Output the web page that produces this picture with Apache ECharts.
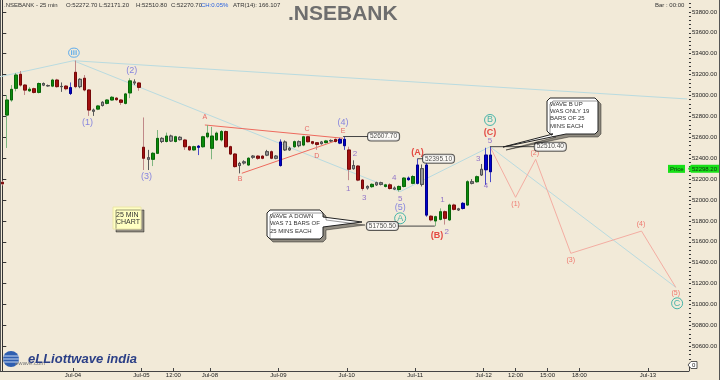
<!DOCTYPE html>
<html><head><meta charset="utf-8">
<script src="https://cdn.jsdelivr.net/npm/echarts@6/dist/echarts.min.js"></script>
<style>html,body{margin:0;padding:0;background:#f2ead8;}#c{width:720px;height:380px;}</style>
</head><body><div id="c"></div>
<script>
// ---------- data ----------
const TOTAL_SLOTS = 151;
const dateTickIndex = [16,31,38,46,61,76,91,106,113,120,127,142];
const dateTickLabel = ['Jul-04','Jul-05','12:00','Jul-08','Jul-09','Jul-10','Jul-11','Jul-12','12:00','15:00','18:00','Jul-13'];
const priceTicks = [50600,50800,51000,51200,51400,51600,51800,52000,52200,52400,52600,52800,53000,53200,53400,53600,53800];

const candleOpen = [52170,52813,52957,53069,53203,53100,53045,53065,53030,53115,53095,53090,53148,53085,53090,53075,
53222,53085,53165,53053,52861,52870,52905,52925,52957,52975,52957,52925,53025,53130,53120,
52505,52405,52390,52447,52590,52560,52612,52560,52600,52574,52510,52480,52515,52510,52605,
52495,52575,52575,52655,52510,52440,52330,52355,52335,52410,52420,52420,52430,52462,52400,
52330,52555,52480,52510,52558,52526,52605,52558,52548,52540,52550,52565,52580,52545,52580,
52479,52300,52325,52191,52115,52128,52145,52165,52130,52145,52115,52100,52130,52210,52160,
52160,52300,52335,51845,51800,51815,51888,51810,51952,51915,51920,51952,52175,52175,52240,
52290,52430];
const candleClose = [52155,52957,53059,53196,53100,53052,53060,53030,53115,53100,53093,53148,53085,53087,53065,53020,
53085,53155,53053,52861,52850,52900,52935,52957,52983,52960,52935,53015,53140,53120,53078,
52400,52390,52447,52590,52560,52612,52565,52605,52578,52510,52480,52510,52505,52605,52640,
52612,52640,52655,52510,52440,52320,52350,52365,52400,52420,52400,52400,52462,52400,52420,
52555,52480,52495,52558,52520,52605,52558,52543,52532,52555,52565,52570,52560,52580,52520,
52295,52330,52191,52110,52130,52150,52165,52150,52145,52110,52105,52130,52210,52195,52225,
52335,52150,51856,51810,51840,51888,51825,51952,51911,51905,51968,52175,52160,52223,52294,
52430,52271];
const candleLow = [52140,52498,52940,53040,53085,53005,53035,53020,53020,53090,53085,53080,53075,53035,53050,53005,
53070,53070,53040,52805,52805,52860,52895,52915,52950,52950,52910,52915,52975,53100,53045,
52287,52287,52325,52440,52545,52550,52555,52550,52570,52480,52470,52470,52430,52500,52590,
52390,52565,52560,52500,52430,52310,52255,52340,52325,52395,52385,52390,52420,52390,52390,
52320,52470,52470,52500,52505,52515,52550,52530,52480,52530,52540,52555,52550,52535,52480,
52190,52290,52180,52090,52100,52115,52135,52140,52120,52100,52095,52080,52120,52185,52150,
52150,52130,51840,51795,51750,51805,51765,51800,51900,51895,51910,51945,52150,52165,52230,
52144,52171];
const candleHigh = [52185,53005,53100,53216,53235,53110,53080,53075,53125,53125,53105,53160,53160,53125,53100,53125,
53335,53165,53196,53060,52875,52910,52945,52965,52995,52985,52965,53025,53165,53155,53130,
52790,52480,52460,52670,52600,52645,52625,52615,52610,52585,52520,52520,52526,52615,52718,
52700,52655,52670,52665,52520,52450,52365,52380,52410,52430,52430,52430,52480,52475,52430,
52580,52570,52510,52570,52570,52615,52615,52565,52555,52565,52575,52580,52590,52595,52608,
52510,52380,52335,52200,52140,52160,52175,52175,52155,52160,52130,52140,52220,52225,52240,
52395,52340,52360,51855,51850,51920,51900,51965,51965,51925,51980,52190,52200,52235,52345,
52500,52511];
// g = up (green), r = down (red), n = neutral (grey), b = highlighted (blue)
const candleKind = ('rgggrrgrgnngrnrb' + 'rnrrngnggrrggnr' + 'rnggngngnrrgbggg' + 'ggrrrnngnrrnrn' +
  'bnngngrrrngnrbb' + 'rnrrngnngrnggbg' + 'bnbrggrgrnbgngn' + 'bb').split('');

const degreeIiiLabel = [[15.7,53410,'iii']];
const minorWaveLabels = [[18.7,52744,'(1)'],[28.4,53237,'(2)'],[31.6,52223,'(3)'],[74.7,52740,'(4)'],[87.2,51930,'(5)']];
const circledLabels = [[87.2,51825,'A'],[106.9,52766,'B'],[147.9,51012,'C']];
const intermediateLabels = [[91.0,52453,'(A)'],[95.3,51665,'(B)'],[106.9,52644,'(C)']];
const triangleLabels = [[44.4,52794,'A'],[52.1,52198,'B'],[66.8,52677,'C'],[68.9,52421,'D'],[74.7,52660,'E']];
const subwaveLabels = [[75.8,52112,'1'],[77.3,52447,'2'],[79.3,52026,'3'],[85.9,52208,'4'],[87.2,52016,'5'],
  [96.5,52000,'1'],[97.4,51697,'2'],[104.3,52399,'3'],[106.0,52134,'4'],[106.9,52568,'5']];
const projectionLabels = [[112.5,51959,'(1)'],[116.7,52453,'(2)'],[124.6,51426,'(3)'],[140.0,51768,'(4)'],[147.6,51107,'(5)']];

const trendFromLeft = [[-0.5,53180],[15.6,53333]];
const primaryPath = [[15.6,53333],[87.2,52080],[106.9,52510],[147.6,51165]];
const longTrend = [[15.6,53333],[150.1,52967]];
const triangleUpper = [[44.4,52718],[74.7,52591]];
const triangleLower = [[52.5,52256],[73.6,52574]];
const projectionPath = [[106.9,52510],[112.5,52026],[116.9,52390],[124.6,51490],[140.1,51703],[147.6,51165]];

const priceTags = [[80.15,52607.7,'52607.70'],[92.2,52395.1,'52395.10'],[79.9,51750.5,'51750.50'],[116.7,52510.4,'52510.40']];
const tagLeaders = [[[74.7,52607.7],[80.15,52607.7]],[[91,52395.1],[92.2,52395.1]],[[86.1,51750.5],[94.8,51750.5]],[[106.9,52510.4],[116.7,52510.4]]];
const lastPrice = 52298.20;

// ---------- chart ----------
const FONT = 'Liberation Sans, Arial, sans-serif';
const chart = echarts.init(document.getElementById('c'), null, {renderer:'canvas', width:720, height:380});
const cats = Array.from({length: TOTAL_SLOTS}, (_, i) => String(i));
const tickMap = {}; dateTickIndex.forEach((k, j) => tickMap[k] = dateTickLabel[j]);
const KIND = {
  g: {fill:'#0b8a0b', edge:'#086408', wick:'#7fb57f'},
  r: {fill:'#a21010', edge:'#760808', wick:'#c08888'},
  n: {fill:'#9a9a9a', edge:'#505050', wick:'#5a5a5a'},
  b: {fill:'#0000cc', edge:'#000088', wick:'#4a4ac8'}
};
function style4(c, b) { return {color:c, color0:c, borderColor:b, borderColor0:b}; }
const wickData = candleOpen.map((o, i) => { const k = KIND[candleKind[i]] || KIND.n;
  return {value:[o, candleClose[i], candleLow[i], candleHigh[i]], itemStyle: style4(k.fill, k.wick)}; });
const bodyData = candleOpen.map((o, i) => { const k = KIND[candleKind[i]] || KIND.n; const c = candleClose[i];
  return {value:[o, c, Math.min(o, c), Math.max(o, c)], itemStyle: style4(k.fill, k.edge)}; });

function labelSeries(points, lab) {
  return {type:'scatter', xAxisIndex:1, symbolSize:0, silent:true, z:6, animation:false,
    data: points.map(p => ({value:[p[0], p[1]], name:p[2]})),
    label: Object.assign({show:true, position:'inside', formatter:'{b}', fontFamily:FONT}, lab)};
}
function lineSeries(pts, color, width, z) {
  return {type:'line', xAxisIndex:1, data:pts, symbol:'none', silent:true, animation:false, z:z || 3,
    lineStyle:{color:color, width:width}};
}

const series = [
  lineSeries(trendFromLeft, '#b9dbe0', 1),
  lineSeries(primaryPath, '#b9dbe0', 1),
  lineSeries(longTrend, '#b9dbe0', 1),
  lineSeries(triangleUpper, '#ee6a5e', 1),
  lineSeries(triangleLower, '#ee6a5e', 1),
  lineSeries(projectionPath, '#f4ada2', 1),
  {type:'candlestick', xAxisIndex:0, data:wickData, barWidth:3, animation:false, z:4},
  {type:'candlestick', xAxisIndex:0, data:bodyData, barWidth:3, animation:false, z:5}
];
tagLeaders.forEach(l => series.push(lineSeries(l, '#444', 1, 5)));
series.push(labelSeries(degreeIiiLabel, {color:'#3a9cf0', fontSize:8, fontWeight:'bold', borderColor:'#3a9cf0', borderWidth:1, borderRadius:6, padding:[1,2,0,2]}));
series.push(labelSeries(minorWaveLabels, {color:'#6a6ae0', fontSize:9}));
series.push(labelSeries(circledLabels, {color:'#1fa89c', fontSize:9, borderColor:'#1fa89c', borderWidth:1, borderRadius:7, width:11, height:11, lineHeight:12, align:'center'}));
series.push(labelSeries(intermediateLabels, {color:'#e0201c', fontSize:9, fontWeight:'bold'}));
series.push(labelSeries(triangleLabels, {color:'#e54a4a', fontSize:7}));
series.push(labelSeries(subwaveLabels, {color:'#7a58c4', fontSize:8}));
series.push(labelSeries(projectionLabels, {color:'#ef5a52', fontSize:7}));
series.push({type:'scatter', xAxisIndex:1, symbolSize:0, silent:true, z:7, animation:false,
  data: priceTags.map(p => ({value:[p[0], p[1]], name:p[2]})),
  label:{show:true, position:[0,0], align:'left', verticalAlign:'middle', formatter:'{b}', fontFamily:FONT,
    fontSize:6.5, color:'#222', backgroundColor:'#ffffff', borderColor:'#333', borderWidth:1, borderRadius:3, padding:[1,2,0,2]}});

const option = {
  backgroundColor:'#f2ead8',
  animation:false,
  grid:{left:0, right:31, top:0, bottom:9},
  xAxis:[
    {type:'category', data:cats, boundaryGap:true,
      axisLine:{show:true, lineStyle:{color:'#444', width:1}},
      axisTick:{show:true, inside:true, length:3, interval:(i) => tickMap[i] !== undefined, lineStyle:{color:'#444'}},
      axisLabel:{show:true, interval:(i) => tickMap[i] !== undefined, formatter:(v, i) => tickMap[i] || '',
        fontSize:6, color:'#222', margin:1, fontFamily:FONT, padding:[0,4.6,0,0]},
      splitLine:{show:false}},
    {type:'value', min:-0.5, max:TOTAL_SLOTS - 0.5, show:false}
  ],
  yAxis:[
    {type:'value', position:'right', min:50364, max:53914, scale:true,
      axisLine:{show:true, lineStyle:{color:'#333'}},
      axisTick:{show:true, length:4, customValues:priceTicks, lineStyle:{color:'#333'}},
      axisLabel:{show:true, customValues:priceTicks, formatter:(v) => v.toFixed(2), fontSize:6, color:'#222', margin:3, fontFamily:FONT},
      splitLine:{show:false}},
    {type:'value', position:'right', min:50364, max:53914,
      axisLine:{show:false}, axisLabel:{show:false}, splitLine:{show:false},
      axisTick:{show:true, length:2, customValues:Array.from({length:89}, (_, i) => 50400 + i * 40), lineStyle:{color:'#333'}}}
  ],
  series: series
};
chart.setOption(option);

const py = chart.convertToPixel({yAxisIndex:0}, lastPrice);
const t = (x, y, text, size, fill, extra) => ({type:'text', x:x, y:y, silent:true, z:20,
  style:Object.assign({text:text, fontSize:size, fontFamily:FONT, fill:fill, verticalAlign:'middle'}, extra || {})});
const shadowed = {shadowColor:'rgba(0,0,0,0.4)', shadowOffsetX:3, shadowOffsetY:3};
chart.setOption({graphic:[
  {type:'line', shape:{x1:0.5, y1:0, x2:0.5, y2:371}, style:{stroke:'#555', lineWidth:1}, silent:true},
  {type:'line', shape:{x1:719.5, y1:0, x2:719.5, y2:380}, style:{stroke:'#555', lineWidth:1}, silent:true},
  t(4, 5.5, '.NSEBANK - 25 min', 6, '#333'),
  t(66, 5.5, 'O:52272.70', 6, '#333'),
  t(99, 5.5, 'L:52171.20', 6, '#333'),
  t(136, 5.5, 'H:52510.80', 6, '#333'),
  t(171, 5.5, 'C:52270.70', 6, '#333'),
  t(201, 5.5, 'CH:0.05%', 6, '#2a62e0'),
  t(233, 5.5, 'ATR(14): 166.107', 6, '#333'),
  t(655, 5.5, 'Bar : 00:00', 6, '#333'),
  t(288, 14.5, '.NSEBANK', 21, '#6e6e6e', {fontWeight:'bold'}),
  // 25 MIN CHART note
  {type:'rect', shape:{x:113, y:207, width:28, height:22}, style:Object.assign({fill:'#ffffc2', stroke:'#ece6a8', lineWidth:1}, shadowed), z:20, silent:true},
  {type:'text', x:116, y:211, z:21, silent:true, style:{text:'25 MIN\nCHART', fontSize:7, lineHeight:7.5, fontFamily:FONT, fill:'#333'}},
  // Wave A bubble
  {type:'polygon', z:20, silent:true, shape:{points:[[270,210],[320,210],[323,213],[323,217],[362,222],[323,227],[323,236],[320,239],[270,239],[267,236],[267,213]]},
    style:Object.assign({fill:'#ffffff', stroke:'#222', lineWidth:1}, shadowed)},
  {type:'text', x:270, y:212, z:21, silent:true, style:{text:'WAVE A DOWN\nWAS 71 BARS OF\n25 MINS EACH', fontSize:6, lineHeight:7.8, fontFamily:FONT, fill:'#333'}},
  // Wave B bubble
  {type:'polygon', z:20, silent:true, shape:{points:[[550,98],[595,98],[598,101],[598,131],[595,134],[566,134],[503,147],[553,134],[550,134],[547,131],[547,101]]},
    style:Object.assign({fill:'#ffffff', stroke:'#222', lineWidth:1}, shadowed)},
  {type:'text', x:550, y:100.5, z:21, silent:true, style:{text:'WAVE B UP\nWAS ONLY 19\nBARS OF 25\nMINS EACH', fontSize:6, lineHeight:7.3, fontFamily:FONT, fill:'#333'}},
  // price tags
  {type:'rect', shape:{x:668, y:py - 4, width:17, height:8}, style:{fill:'#18e018'}, z:20, silent:true},
  t(670, py, 'Price', 6, '#113311'),
  {type:'polygon', shape:{points:[[688,py],[691,py - 4],[719,py - 4],[719,py + 4],[691,py + 4]]}, style:{fill:'#18e018'}, z:20, silent:true},
  t(692, py, lastPrice.toFixed(2), 6, '#113311'),
  {type:'polygon', shape:{points:[[688,365],[691,361.5],[697,361.5],[697,368.5],[691,368.5]]}, style:{fill:'#fff', stroke:'#333', lineWidth:0.8}, z:20, silent:true},
  t(692, 365, '0', 6, '#222'),
  // logo
  {type:'circle', shape:{cx:11, cy:359, r:8}, style:{fill:'#2f5fb0'}, z:20, silent:true},
  {type:'line', shape:{x1:3, y1:356, x2:19, y2:356}, style:{stroke:'#c9d8f0', lineWidth:1}, z:21, silent:true},
  {type:'line', shape:{x1:3, y1:359, x2:19, y2:359}, style:{stroke:'#c9d8f0', lineWidth:1}, z:21, silent:true},
  {type:'line', shape:{x1:4, y1:362, x2:18, y2:362}, style:{stroke:'#c9d8f0', lineWidth:1}, z:21, silent:true},
  t(15, 363.5, 'ewave.com', 6, '#777'),
  t(28, 359, 'eLLiottwave india', 13, '#2b3f86', {fontStyle:'italic', fontWeight:'bold'})
]});
</script></body></html>
